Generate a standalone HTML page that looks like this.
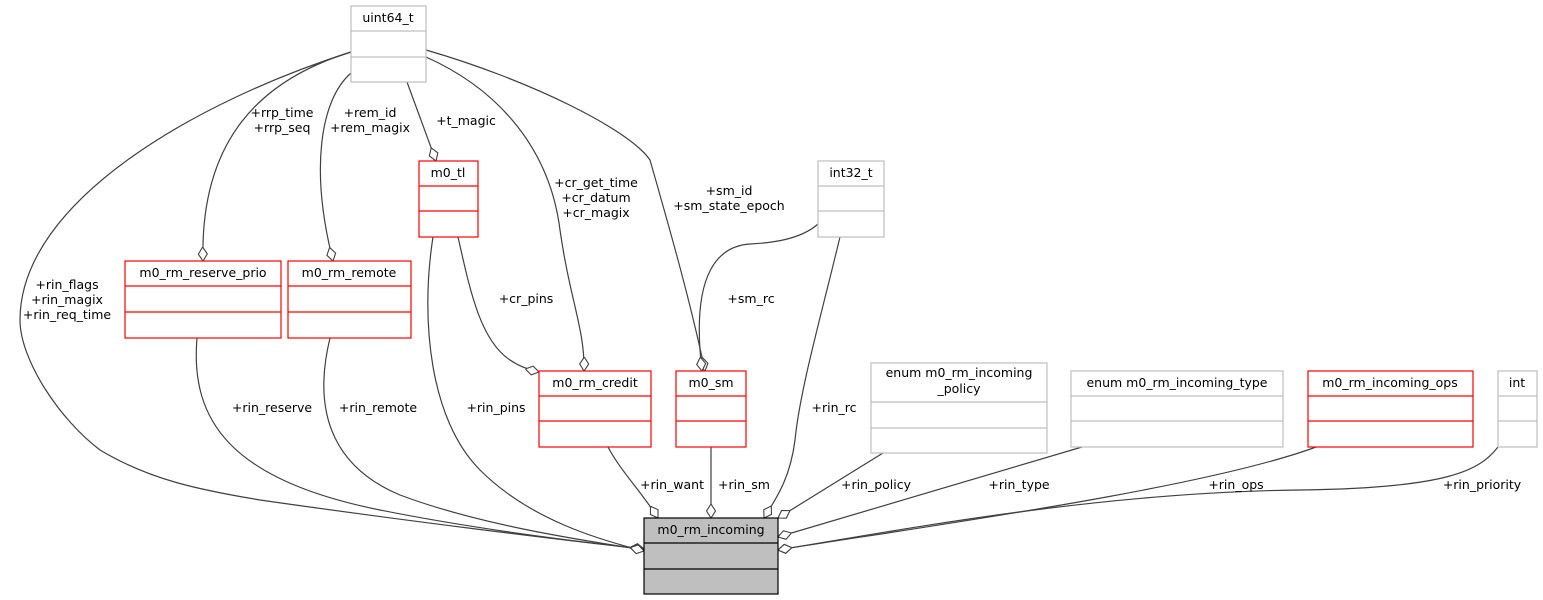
<!DOCTYPE html>
<html><head><meta charset="utf-8"><style>
html,body{margin:0;padding:0;background:#fff}
svg{display:block}
text{font-family:"DejaVu Sans","Liberation Sans",sans-serif;font-size:12.5px;fill:#000}
</style></head><body>
<svg width="1543" height="600" viewBox="0 0 1543 600" xmlns="http://www.w3.org/2000/svg">
<defs>
<marker id="d" markerWidth="18" markerHeight="12" refX="14" refY="6" orient="auto" markerUnits="userSpaceOnUse">
<path d="M0,6 L7,1.5 L14,6 L7,10.5 Z" fill="#fff" stroke="#404040" stroke-width="1.1"/>
</marker>
</defs>
<g fill="none" stroke="#404040" stroke-width="1.2">
<path d="M351,52 C200,100 20,200 20,320 C20,360 60,420 100,450 C150,480 200,490 260,500 C400,520 560,540 644,549" marker-end="url(#d)"/>
<path d="M197,338 C190,420 230,480 380,510 C480,530 580,542 644,549" marker-end="url(#d)"/>
<path d="M330,338 C310,420 340,470 400,495 C480,525 580,540 644,550" marker-end="url(#d)"/>
<path d="M433,237 C420,320 430,420 480,470 C530,520 600,540 644,551" marker-end="url(#d)"/>
<path d="M608,447 C620,470 640,490 658,518" marker-end="url(#d)"/>
<path d="M711,447 L711,518" marker-end="url(#d)"/>
<path d="M840,237 C820,320 800,390 795,440 C790,480 775,500 764,518" marker-end="url(#d)"/>
<path d="M883,453 L778,518" marker-end="url(#d)"/>
<path d="M1082,447 L778,537" marker-end="url(#d)"/>
<path d="M1316,447 C1200,490 900,530 778,550" marker-end="url(#d)"/>
<path d="M1498,447 C1480,470 1450,488 1300,490 C1100,492 900,530 778,550" marker-end="url(#d)"/>
<path d="M351,52 C260,80 200,140 203,261" marker-end="url(#d)"/>
<path d="M351,73 C320,100 310,170 333,261" marker-end="url(#d)"/>
<path d="M407,82 L436,161" marker-end="url(#d)"/>
<path d="M426,57 C500,90 550,150 560,230 C570,300 585,330 584,371" marker-end="url(#d)"/>
<path d="M426,50 C530,80 630,130 650,160 C670,230 690,300 705,371" marker-end="url(#d)"/>
<path d="M818,224 C800,240 770,243 750,244 C720,246 690,270 702,371" marker-end="url(#d)"/>
<path d="M458,237 C470,290 480,340 510,360 C520,367 530,370 539,372" marker-end="url(#d)"/>
</g>
<g fill="#fff" stroke-width="1.2">
<g stroke="#bfbfbf">
<rect x="351" y="6" width="75" height="76"/><line x1="351" y1="31" x2="426" y2="31"/><line x1="351" y1="57" x2="426" y2="57"/>
<rect x="818" y="161" width="66" height="76"/><line x1="818" y1="186" x2="884" y2="186"/><line x1="818" y1="211" x2="884" y2="211"/>
<rect x="871" y="363" width="176" height="90"/><line x1="871" y1="402" x2="1047" y2="402"/><line x1="871" y1="428" x2="1047" y2="428"/>
<rect x="1071" y="371" width="212" height="76"/><line x1="1071" y1="396" x2="1283" y2="396"/><line x1="1071" y1="421" x2="1283" y2="421"/>
<rect x="1498" y="371" width="39" height="76"/><line x1="1498" y1="396" x2="1537" y2="396"/><line x1="1498" y1="421" x2="1537" y2="421"/>
</g>
<g stroke="#ff0000">
<rect x="419" y="161" width="59" height="76"/><line x1="419" y1="186" x2="478" y2="186"/><line x1="419" y1="211" x2="478" y2="211"/>
<rect x="125" y="261" width="156" height="77"/><line x1="125" y1="286" x2="281" y2="286"/><line x1="125" y1="312" x2="281" y2="312"/>
<rect x="288" y="261" width="123" height="77"/><line x1="288" y1="286" x2="411" y2="286"/><line x1="288" y1="312" x2="411" y2="312"/>
<rect x="539" y="371" width="112" height="76"/><line x1="539" y1="396" x2="651" y2="396"/><line x1="539" y1="421" x2="651" y2="421"/>
<rect x="676" y="371" width="70" height="76"/><line x1="676" y1="396" x2="746" y2="396"/><line x1="676" y1="421" x2="746" y2="421"/>
<rect x="1308" y="371" width="165" height="76"/><line x1="1308" y1="396" x2="1473" y2="396"/><line x1="1308" y1="421" x2="1473" y2="421"/>
</g>
<g stroke="#000">
<rect x="644" y="518" width="134" height="76" fill="#bfbfbf"/><line x1="644" y1="543" x2="778" y2="543"/><line x1="644" y1="569" x2="778" y2="569"/>
</g>
</g>
<g text-anchor="middle">
<text x="388" y="22">uint64_t</text>
<text x="851" y="177">int32_t</text>
<text x="959" y="377">enum m0_rm_incoming</text>
<text x="959" y="393">_policy</text>
<text x="1177" y="387">enum m0_rm_incoming_type</text>
<text x="1517" y="387">int</text>
<text x="448" y="177">m0_tl</text>
<text x="203" y="277">m0_rm_reserve_prio</text>
<text x="349" y="277">m0_rm_remote</text>
<text x="595" y="387">m0_rm_credit</text>
<text x="711" y="387">m0_sm</text>
<text x="1390" y="387">m0_rm_incoming_ops</text>
<text x="711" y="534">m0_rm_incoming</text>
<text x="282" y="117">+rrp_time</text>
<text x="282" y="132">+rrp_seq</text>
<text x="370" y="117">+rem_id</text>
<text x="370" y="132">+rem_magix</text>
<text x="466" y="125">+t_magic</text>
<text x="596" y="187">+cr_get_time</text>
<text x="596" y="202">+cr_datum</text>
<text x="596" y="217">+cr_magix</text>
<text x="729" y="195">+sm_id</text>
<text x="729" y="210">+sm_state_epoch</text>
<text x="67" y="289">+rin_flags</text>
<text x="67" y="304">+rin_magix</text>
<text x="67" y="319">+rin_req_time</text>
<text x="526" y="303">+cr_pins</text>
<text x="751" y="303">+sm_rc</text>
<text x="272" y="412">+rin_reserve</text>
<text x="378" y="412">+rin_remote</text>
<text x="496" y="412">+rin_pins</text>
<text x="834" y="412">+rin_rc</text>
<text x="672" y="489">+rin_want</text>
<text x="744" y="489">+rin_sm</text>
<text x="876" y="489">+rin_policy</text>
<text x="1019" y="489">+rin_type</text>
<text x="1236" y="489">+rin_ops</text>
<text x="1482" y="489">+rin_priority</text>
</g>
</svg>
</body></html>
